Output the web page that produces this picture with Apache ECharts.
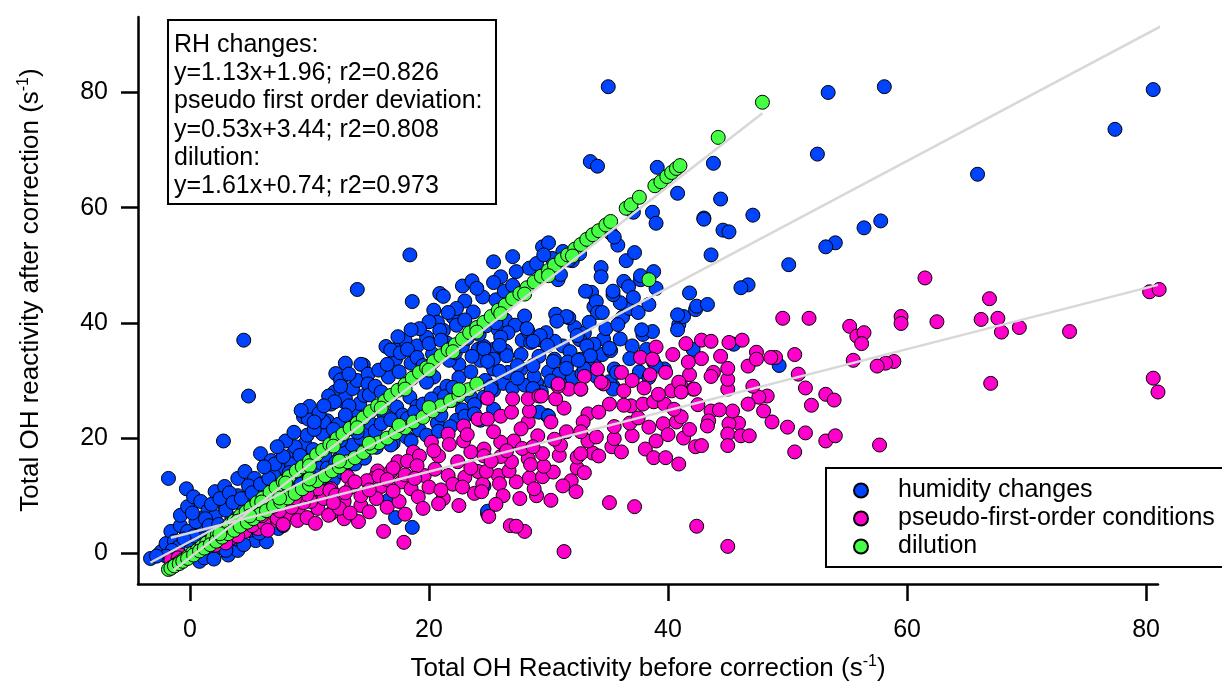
<!DOCTYPE html>
<html>
<head>
<meta charset="UTF-8">
<title>OH reactivity correction</title>
<script src="https://cdn.jsdelivr.net/npm/echarts@6/dist/echarts.min.js"></script>
<style>
  html, body { margin: 0; padding: 0; background: #fff; }
  #chart { width: 1222px; height: 683px; }
</style>
</head>
<body>
<div id="chart"></div>
<script>
// tick labels
const xTicks = [0, 20, 40, 60, 80];
const yTicks = [0, 20, 40, 60, 80];

const seriesNames = ['humidity changes', 'pseudo-first-order conditions', 'dilution'];

// humidity changes (blue) [before, after]
const humidityPts = [
  [-3.3,-0.9],[-2.6,-0.2],[-2.4,0.3],[-2.0,1.7],[-1.6,3.8],[-0.8,4.8],[-0.8,6.6],[-0.2,8.1],[-0.3,11.2],[0.3,9.8],
  [0.9,9.0],[1.5,7.4],[2.1,10.7],[2.9,11.6],[2.1,6.4],[2.9,4.3],[4.0,13.0],[4.6,14.2],[5.9,17.3],[6.8,16.1],
  [7.4,14.7],[8.6,17.3],[9.6,19.0],[11.1,20.7],[11.5,23.0],[9.6,24.5],[9.5,23.7],[11.8,27.1],[11.8,25.9],[12.1,28.0],
  [5.4,13.0],[4.9,11.7],[4.0,10.0],[2.9,8.3],[0.9,6.0],[-0.2,3.8],[-1.3,2.1],[3.2,-0.3],[4.0,0.5],[0.8,-1.4],
  [5.5,2.2],[6.4,2.0],[7.4,4.3],[7.8,4.8],[7.2,6.0],[7.4,12.6],[6.3,11.2],[8.2,11.2],[9.0,13.0],[10.7,15.2],
  [11.3,16.9],[12.1,19.5],[-1.8,13.0],[2.8,19.5],[4.9,27.3],[4.5,37.0],[9.9,23.3],[11.2,22.8],[12.9,26.3],
  [1.2,3.5],[2.0,2.5],[3.5,6.0],[4.5,7.5],[5.5,9.0],[6.0,7.0],[3.8,2.5],[5.0,4.0],[6.5,8.5],[8.0,9.5],
  [9.2,10.0],[10.2,10.8],[11.0,11.5],[12.0,12.8],[13.0,14.0],[10.5,13.5],[12.5,16.5],[13.5,17.5],[14.0,19.0],[9.8,16.5],
  [8.5,15.5],[7.0,13.5],[6.5,10.0],[3.0,7.5],[1.0,4.5],[0.0,2.0],[-1.0,1.0],[1.8,0.2],[2.6,1.0],
  [0.5,5.5],[1.3,6.0],[1.8,8.5],[2.5,9.5],[3.3,10.5],[3.6,8.8],[4.3,9.5],[1.0,2.5],[0.3,3.0],[-0.5,2.5],
  [-1.5,0.5],[-2.0,-0.5],[-2.8,-0.5],[0.2,7.0],[1.6,4.8],[2.4,5.0],[4.8,6.0],[5.8,3.5],[4.5,1.5],[3.0,0.5],
  [1.2,-0.8],[2.0,-1.0],
  [5.2,10.5],[5.9,12.0],[6.6,13.0],[7.1,15.5],[7.8,16.8],[8.3,14.0],[8.8,18.5],[9.2,17.0],[9.8,20.5],[10.3,18.0],
  [5.7,7.8],[6.9,9.0],[7.6,10.0],[8.4,11.0],[9.3,12.0],[10.0,13.5],[7.9,7.0],[8.8,8.5],[9.6,9.5],[6.2,15.0],
  [8.0,19.5],[8.7,21.0],[7.3,18.5],[10.4,21.5],[10.0,25.5],[10.8,24.3],
  [11.5,14.8],[12.2,15.8],[12.8,17.5],[13.6,18.8],[14.3,20.0],[14.8,21.2],[11.0,13.0],[12.8,14.0],[13.8,15.5],[14.6,16.5],
  [13.2,23.0],[13.8,24.8],[14.2,26.0],[14.6,27.4],[12.4,22.4],[13.0,27.0],[13.6,28.6],[14.0,30.0],[12.2,31.2],[13.0,33.0],
  [16.6,9.2],[17.2,6.2],[18.6,4.5],[24.9,6.9],[24.6,11.7],[24.9,7.3],
  [9.3,24.8],[10.4,22.8],[12.6,30.1],[12.6,29.0],[11.6,27.3],[12.1,26.3],[13.3,25.6],[11.2,25.6],[14.5,32.7],[14.3,32.8],
  [14.9,31.1],[14.9,29.4],[16.6,30.6],[13.3,31.1],[16.4,35.9],[17.2,35.4],[17.2,33.7],[16.8,35.3],[14.0,45.8],[18.4,51.8],
  [18.6,43.7],[20.9,45.1],[21.2,44.6],[20.4,42.2],[22.8,46.4],[23.6,47.3],[23.0,43.8],[21.2,38.7],[22.0,41.0],[20.7,40.1],
  [20.9,38.7],[22.3,39.6],[23.7,41.9],[24.1,35.4],[24.8,33.7],[25.4,35.4],[24.6,35.9],[25.4,32.0],[22.5,32.8],[20.4,30.6],
  [19.8,29.7],[20.9,27.8],[18.4,27.1],[17.3,25.4],[16.2,24.3],[15.1,22.6],[14.0,21.0],[12.6,19.6],[24.3,33.5],[23.5,27.1],
  [24.6,27.1],[25.4,28.3],[24.7,30.0],[22.8,24.9],[22.3,23.1],[20.7,22.6],[19.2,21.4],[18.1,20.2],[17.0,19.1],[15.6,18.4],
  [20.9,25.7],[22.0,26.6],[25.4,25.0],[24.3,23.1],
  [15.0,27.5],[15.5,29.0],[16.0,28.0],[13.0,24.0],[12.0,21.5],[17.5,31.5],[18.5,33.0],[19.0,36.0],[19.8,37.5],[18.0,37.0],
  [21.5,36.5],[17.8,24.0],[19.0,25.5],[21.5,29.0],[22.5,30.5],[23.5,31.5],[21.0,24.0],[23.8,25.8],
  [15.5,21.2],[16.0,22.5],[16.8,23.2],[17.5,22.0],[18.2,23.4],[18.8,24.5],[19.5,25.9],[20.2,26.8],[21.3,27.2],[22.0,28.8],
  [16.8,18.8],[18.5,19.5],[19.8,20.5],[20.8,21.2],[21.8,22.0],[23.0,23.8],[23.8,24.2],[15.8,31.8],[16.5,32.8],[17.6,34.8],
  [18.2,35.4],[19.0,34.0],[19.5,32.6],[20.3,34.6],[20.0,36.4],[21.0,37.0],[21.7,33.5],[22.2,34.8],[22.8,36.0],[23.2,37.3],
  [23.6,34.2],[24.2,38.0],[24.8,39.5],[23.0,40.5],[22.3,42.5],[21.6,41.8],[24.5,44.5],[24.0,46.0],[20.0,40.2],[19.2,39.0],
  [18.5,38.8],[17.4,37.6],
  [25.8,38.8],[26.4,40.5],[27.2,39.6],[27.8,37.0],[28.0,41.2],[25.6,40.0],[25.6,44.0],[26.3,45.5],[27.0,46.5],[28.4,49.5],
  [29.0,50.3],[30.3,51.2],[31.2,52.4],[32.0,50.8],[32.6,52.0],[26.2,29.5],[27.0,28.7],[28.0,29.2],[29.0,29.6],[30.0,31.5],
  [31.0,30.2],[32.0,30.5],[32.8,31.2],[33.8,33.0],[34.5,34.5],[31.2,36.0],[30.5,36.8],[31.8,35.0],[32.2,39.2],[33.0,38.2],
  [34.6,37.2],[34.8,39.0],[33.8,42.8],[36.2,41.0],[36.8,42.5],[36.0,43.5],[37.5,41.8],[38.4,43.2],[39.0,46.0],[36.5,50.8],
  [37.2,52.2],[35.8,53.5],[36.0,37.2],[37.0,36.0],[38.2,35.4],[36.8,33.8],[37.6,31.5],[38.4,30.5],
  [25.4,50.6],[27.0,51.5],[27.3,48.9],[26.0,48.0],[25.4,47.0],[29.5,53.2],[30.0,53.9],[29.6,51.8],[30.8,47.5],[31.0,48.4],
  [31.7,50.9],[35.2,55.6],[35.5,54.9],[37.1,59.2],[38.7,59.2],[39.0,57.3],[43.0,58.2],[43.6,51.8],[34.4,49.6],[34.4,48.0],
  [33.6,45.3],[34.0,43.7],[34.1,41.8],[35.4,44.9],[36.3,47.2],[36.7,46.3],[37.1,44.4],[37.7,47.5],[38.8,48.9],[35.8,39.7],
  [35.2,35.2],[33.4,40.1],[32.6,37.1],[33.8,36.3],[37.9,38.0],[38.7,38.5],[38.8,33.2],[39.7,32.0],[41.8,45.2],[40.9,39.7],
  [41.3,41.1],[42.3,42.3],[30.6,41.5],[31.7,40.9],[29.8,38.3],[29.2,37.1],[28.3,38.5],[28.5,36.6],[26.6,38.3],[26.0,37.5],
  [26.4,35.1],[27.7,34.5],[29.2,34.2],[30.5,33.7],[31.6,33.2],[32.7,33.7],[33.0,32.0],[30.9,31.1],[30.2,29.9],[28.8,30.7],
  [27.7,32.0],[26.6,31.4],[25.2,29.0],[25.4,33.7],[29.4,28.0],[35.5,32.0],[35.4,29.0],
  [33.5,68.0],[34.1,67.2],[39.1,67.0],[40.8,62.5],[35.4,45.5],[33.1,45.5],[34.5,41.8],[37.7,48.2],[42.4,42.9],[40.8,41.4],
  [40.8,38.8],[37.8,38.8],[35.1,35.6],[28.2,39.0],[29.3,37.8],[29.9,36.1],[28.7,36.8],[31.5,41.1],[30.7,40.3],[32.4,37.8],
  [33.2,36.0],[33.5,34.3],[32.5,33.5],[31.5,32.1],[30.4,33.3],[28.7,32.6],[27.4,32.6],[26.5,34.3],[25.9,36.1],[24.6,35.5],
  [24.9,33.3],[25.9,31.6],[27.4,30.4],[28.7,28.6],[29.9,23.9],[35.1,29.8],[35.7,31.4],[34.0,30.7],[39.0,32.5],[42.1,35.4],
  [25.2,28.5],[29.2,24.5],[30.0,23.8],[35.4,28.5],
  [35.0,81.0],[53.4,80.0],[58.1,81.0],[80.6,80.5],[77.4,73.6],[65.9,65.8],[52.5,69.3],[43.8,67.7],[44.4,61.5],[47.1,58.7],
  [43.0,58.0],[44.6,56.1],[45.1,55.8],[57.8,57.7],[56.4,56.5],[54.0,53.9],[53.2,53.2],[50.1,50.1],[46.7,46.6],[46.1,46.1],
  [43.3,43.2],[45.5,36.3],[49.3,32.6]
];

// pseudo-first-order conditions (magenta)
const pseudoPts = [
  [-1.6,-1.2],[-0.8,-0.3],[0.7,0.5],[2.1,1.4],[3.4,2.6],[4.6,3.8],[5.7,4.3],[6.8,5.5],[8.0,6.6],[9.0,7.4],
  [10.7,7.8],[11.8,6.9],[9.0,5.7],[10.1,9.0],[11.2,9.5],[12.9,9.0],[14.3,8.3],[14.3,10.0],[11.8,11.2],[10.7,11.2],
  [11.7,10.9],[13.2,13.3],[15.7,14.3],[17.4,15.9],[18.7,17.6],[20.2,19.3],[21.6,20.7],[22.9,22.1],[24.1,23.3],[20.8,16.9],
  [19.6,13.5],[17.7,12.4],[21.6,13.5],[22.4,15.9],[23.5,17.6],[24.1,14.2],[24.6,18.1],[22.9,19.5],[15.4,13.0],[16.8,14.2],
  [16.0,11.6],[18.5,11.2],[19.1,9.8],[21.2,9.5],[20.8,8.6],[22.5,8.3],[23.8,10.4],[16.2,3.8],[17.9,1.9],[14.1,5.5],
  [12.9,6.0],[11.6,6.6],[1.5,2.0],[2.6,2.2],[4.0,3.0],[5.2,4.8],[6.2,5.2],[7.3,6.1],[3.0,1.8],[0.2,0.0],
  [-1.0,-0.8],[6.0,6.5],[7.5,7.4],[8.5,8.0],[9.5,8.8],[12.2,10.1],[13.5,11.5],[14.8,12.6],[15.8,13.4],[17.0,14.8],
  [18.2,16.0],[19.2,16.9],[20.4,17.8],[21.7,18.9],[23.2,20.6],[13.8,12.4],[16.5,12.8],[18.0,13.6],[19.0,15.2],[20.5,14.6],
  [22.0,12.0],[23.0,13.2],[24.5,12.0],[25.8,13.5],[24.4,10.7],[25.9,12.1],[27.3,12.4],[24.8,14.2],[26.7,14.3],[28.4,13.1],
  [29.5,13.3],[30.4,14.1],[31.9,12.6],[31.2,11.7],[32.3,10.7],[29.6,15.1],[32.4,14.8],[32.4,16.7],[30.9,17.0],[28.3,16.4],
  [26.9,15.9],[33.7,17.4],[34.2,16.9],[32.7,17.3],[31.0,18.8],[33.3,19.5],[35.3,18.5],[36.1,17.6],[35.5,19.9],[37.0,20.4],
  [38.1,18.1],[38.8,16.6],[39.8,16.6],[40.9,15.5],[42.3,18.5],[41.3,20.0],[38.4,21.9],[39.6,22.5],[40.7,22.8],[41.1,23.7],
  [43.6,24.7],[36.9,25.6],[37.9,25.9],[38.8,26.3],[39.7,25.9],[36.3,25.7],[38.0,28.7],[40.3,28.2],[41.1,29.0],[42.1,28.5],
  [35.1,25.9],[34.6,29.4],[36.3,28.2],[33.3,24.2],[34.2,24.5],[32.7,28.5],[31.7,28.5],[31.3,25.2],[32.9,22.8],[31.5,21.1],
  [32.7,21.1],[34.0,20.2],[29.5,17.3],[28.5,15.4],[30.2,22.8],[29.1,20.4],[28.3,22.8],[27.7,21.6],[27.1,19.5],[26.0,19.3],
  [25.4,21.1],[24.9,23.3],[26.0,23.8],[26.9,24.5],[28.4,24.7],[27.0,26.8],[28.3,26.8],[30.6,26.8],[29.2,27.3],[30.8,29.0],
  [24.9,26.9],[24.6,16.9],[26.0,16.8],[31.3,0.3],[35.1,8.8],[37.2,8.1],[42.4,4.7],[45.0,1.2],[26.8,4.8],[28.0,3.8],
  [27.3,4.7],[25.0,6.4],
  [6.5,4.0],[7.8,5.0],[9.8,6.2],[10.5,5.2],[12.5,7.8],[13.4,7.0],[15.0,7.2],[15.6,9.5],[16.5,8.0],[17.5,9.0],
  [18.0,6.8],[19.5,7.8],[20.0,11.5],[21.0,11.0],[22.8,11.5],[23.5,14.8],[17.0,10.8],[18.8,13.0],[15.0,11.0],[13.0,10.5],
  [12.0,8.8],[9.8,10.2],[8.8,9.6],[7.0,8.2],[26.5,17.8],[27.8,18.2],[25.2,16.0],[27.6,9.5],[29.0,10.0],[30.2,9.2],
  [28.8,11.2],[26.2,10.0],[25.6,8.5],[30.5,19.8],[28.7,18.5],[33.0,14.0],[35.5,22.0],[36.8,22.6],[37.5,23.5],[39.0,19.5],
  [40.0,20.6],[41.8,21.5],[42.5,25.8],[40.5,25.0],[39.2,27.6],[37.0,30.0],[38.5,31.0],[39.8,31.4],[41.8,31.0],[42.8,33.8],
  [40.4,34.5],[39.0,35.8],[41.5,36.4],[42.8,37.0],
  [43.6,36.8],[41.7,33.2],[37.7,34.0],[38.7,33.7],[36.1,31.4],[34.1,32.0],[34.4,29.7],[33.0,30.7],[30.8,29.4],[32.7,28.5],
  [40.9,29.7],[44.4,34.2],[43.8,31.4],[45.1,36.6],[42.2,28.5],[41.1,28.0],[29.4,27.3],
  [80.3,45.4],[81.1,45.8],[61.5,47.8],[66.9,44.2],[66.2,40.6],[67.6,40.8],[67.9,38.4],[69.4,39.2],[73.6,38.5],[62.5,40.2],
  [59.5,41.1],[59.5,39.9],[67.0,29.5],[80.6,30.4],[81.0,28.0],[57.7,18.8],[58.9,33.3],[58.2,33.0],[57.5,32.5],[55.5,33.5],
  [55.2,39.4],[55.8,37.7],[56.4,38.3],[56.2,36.4],[51.8,40.8],[49.6,40.8],[46.2,37.0],[47.4,34.9],[49.0,34.0],[50.6,34.5],
  [50.9,31.1],[51.5,28.7],[53.2,27.6],[53.9,26.6],[52.0,25.7],[50.0,21.9],[51.5,20.9],[53.2,19.5],[54.0,20.4],[50.6,17.6],
  [48.7,22.8],[48.0,24.7],[48.3,27.3],[47.6,27.1],[46.7,25.9],[47.1,29.0],[45.9,22.6],[45.1,22.5],[45.4,24.7],[44.3,24.9],
  [43.4,23.0],[45.0,28.5],[45.0,30.2],[43.6,30.7],[45.0,32.1],[46.7,32.5],[47.4,33.7],[48.6,34.0],[45.0,20.7],[45.0,18.7],
  [46.1,20.4],[46.8,20.4],[43.3,22.1],[42.8,18.7]
];

// dilution (green)
const dilutionPts = [
  [-1.8,-2.8],[-1.5,-2.4],[-1.2,-2.0],[-0.9,-1.6],[-0.5,-1.0],[-0.2,-0.6],[0.2,0.0],[0.6,0.5],[1.0,1.2],[1.4,1.8],
  [1.9,2.7],[2.3,3.3],[2.8,4.1],[3.3,4.9],[3.7,5.6],[4.2,6.5],[4.7,7.2],[5.1,7.9],[5.6,8.8],[6.1,9.6],
  [6.7,10.6],[7.2,11.4],[7.8,12.4],[8.3,13.3],[8.9,14.3],[9.4,15.0],[10.0,16.0],[10.6,17.1],[11.1,17.9],[11.7,18.9],
  [12.3,19.9],[12.8,20.7],[13.4,21.7],[14.0,22.6],[14.5,23.5],[15.1,24.6],[15.7,25.6],[16.3,26.4],[16.8,27.4],[17.4,28.3],
  [18.0,29.3],[18.6,30.4],[19.2,31.4],[19.8,32.2],[20.4,33.3],[21.0,34.3],[21.6,35.3],[22.2,36.2],[22.8,37.2],[23.4,38.3],
  [24.0,39.2],[24.6,40.1],[25.2,41.1],[25.8,42.2],[26.4,43.1],[27.0,44.2],[27.6,45.1],[28.2,46.1],[28.8,47.1],[29.4,48.1],
  [30.0,49.1],[30.5,50.0],[31.1,51.0],[31.6,51.8],[32.2,52.8],[32.7,53.6],[33.2,54.5],[33.7,55.3],[34.2,56.0],[34.8,57.0],
  [35.2,57.6],[36.5,59.9],[36.9,60.5],[37.6,61.8],[38.9,63.8],[39.4,64.5],[39.9,65.4],[40.3,66.1],[40.7,66.8],[41.0,67.3],
  [44.2,72.2],[47.9,78.3],
  [4.0,5.6],[6.0,8.9],[8.0,12.2],[10.0,15.2],[12.0,18.6],[14.0,21.8],[16.0,25.2],[18.0,28.5],[20.0,31.8],[22.0,35.0],
  [24.0,38.4],[26.0,41.6],[28.0,45.0],[30.0,48.2],[32.0,51.6],
  [-1.6,-2.6],[-1.3,-2.2],[-0.9,-1.8],[-0.6,-1.4],[-0.2,-0.9],[0.3,-0.3],[0.8,0.4],[1.2,0.9],[1.7,1.5],[2.2,2.1],
  [2.7,2.8],[3.2,3.4],[3.7,4.0],[4.2,4.7],[4.8,5.4],[5.3,6.0],[5.9,6.8],[6.4,7.4],[7.0,8.2],[7.6,8.9],
  [8.2,9.6],[8.8,10.4],[9.4,11.2],[10.0,11.9],[10.6,12.6],[11.3,13.5],[11.9,14.3],[12.5,15.0],[13.2,15.9],[13.8,16.6],
  [14.5,17.5],[15.2,18.4],[15.8,19.2],[16.5,20.0],[17.2,20.9],[18.0,21.8],[18.7,22.8],[19.5,23.6],[20.3,24.7],[21.0,25.6],
  [21.8,26.5],[22.5,27.4],[23.3,28.4],[24.0,29.4],[38.4,47.5],
  [2.5,3.4],[5.0,6.5],[7.5,9.6],[10.0,12.9],[12.5,16.0],[15.0,19.1],[17.5,22.2],[20.0,25.3],[22.5,28.4]
];

// fit lines, end points
const fitRH = [[-3.3, -1.6], [82.8, 93.2]];
const fitPseudo = [[-1.6, 2.7], [81.0, 46.6]];
const fitDilution = [[-1.4, -3.0], [47.9, 76.4]];

const annotationLines = [
  'RH changes:',
  'y=1.13x+1.96; r2=0.826',
  'pseudo first order deviation:',
  'y=0.53x+3.44; r2=0.808',
  'dilution:',
  'y=1.61x+0.74; r2=0.973'
];
const xTitle = 'Total OH Reactivity before correction (s{sup|-1})';
const yTitle = 'Total OH reactivity after correction (s{sup|-1})';

const FONT = 'Liberation Sans, Arial, Helvetica, sans-serif';
const colors = ['#0044ff', '#ff00cc', '#44ff44'];

const chart = echarts.init(document.getElementById('chart'), null, { renderer: 'canvas' });

function scatter(name, data, color) {
  return {
    name: name,
    type: 'scatter',
    data: data,
    symbol: 'circle',
    symbolSize: 14,
    clip: false,
    itemStyle: { color: color, borderColor: '#000', borderWidth: 1, opacity: 1 },
    emphasis: { disabled: true }
  };
}

function fitLine(data) {
  return {
    type: 'line',
    data: data,
    symbol: 'none',
    clip: false,
    silent: true,
    z: 5,
    lineStyle: { color: '#d8d8d8', width: 2.5 }
  };
}

const supRich = { sup: { font: '16px ' + FONT, lineHeight: 15, verticalAlign: 'top', fill: '#000' } };

chart.setOption({
  animation: false,
  backgroundColor: '#fff',
  grid: { left: 138, top: 17, width: 1020, height: 567, outerBoundsMode: 'none' },
  xAxis: {
    type: 'value', min: -4.35, max: 81.0,
    axisLine: { show: true, onZero: false, lineStyle: { color: '#000', width: 2.5 } },
    axisTick: { show: true, length: 17, customValues: xTicks, lineStyle: { color: '#000', width: 2.5 } },
    axisLabel: { customValues: xTicks, fontSize: 25, fontFamily: FONT, color: '#000', margin: 34 },
    splitLine: { show: false }
  },
  yAxis: {
    type: 'value', min: -5.33, max: 93.1,
    axisLine: { show: true, onZero: false, lineStyle: { color: '#000', width: 2.5 } },
    axisTick: { show: true, length: 17, customValues: yTicks, lineStyle: { color: '#000', width: 2.5 } },
    axisLabel: { customValues: yTicks, fontSize: 25, fontFamily: FONT, color: '#000', margin: 30 },
    splitLine: { show: false }
  },
  legend: {
    data: seriesNames,
    orient: 'vertical',
    left: 826,
    top: 468,
    padding: [10, 14, 8, 27],
    itemGap: 3,
    itemWidth: 14,
    itemHeight: 14,
    icon: 'circle',
    backgroundColor: '#fff',
    borderColor: '#000',
    borderWidth: 2,
    borderRadius: 0,
    textStyle: { fontFamily: FONT, fontSize: 25, color: '#000', padding: [0, 0, 0, 25] }
  },
  graphic: [
    {
      type: 'group',
      left: 167,
      top: 19,
      children: [
        { type: 'rect', shape: { x: 0, y: 0, width: 328, height: 184 },
          style: { fill: '#fff', stroke: '#000', lineWidth: 2 } },
        { type: 'text', x: 6, y: 11,
          style: { text: annotationLines.join('\n'), font: '25px ' + FONT, fill: '#000', lineHeight: 28.2 } }
      ]
    },
    {
      type: 'text', x: 648, y: 669,
      style: { text: xTitle, font: '26px ' + FONT, fill: '#000', align: 'center', verticalAlign: 'middle',
        lineHeight: 30, rich: supRich }
    },
    {
      type: 'text', x: 31, y: 290, rotation: Math.PI / 2,
      style: { text: yTitle, font: '26px ' + FONT, fill: '#000', align: 'center', verticalAlign: 'middle',
        lineHeight: 30, rich: supRich }
    }
  ],
  series: [
    scatter(seriesNames[0], humidityPts, colors[0]),
    scatter(seriesNames[1], pseudoPts, colors[1]),
    scatter(seriesNames[2], dilutionPts, colors[2]),
    fitLine(fitRH),
    fitLine(fitPseudo),
    fitLine(fitDilution)
  ]
});
</script>
</body>
</html>
